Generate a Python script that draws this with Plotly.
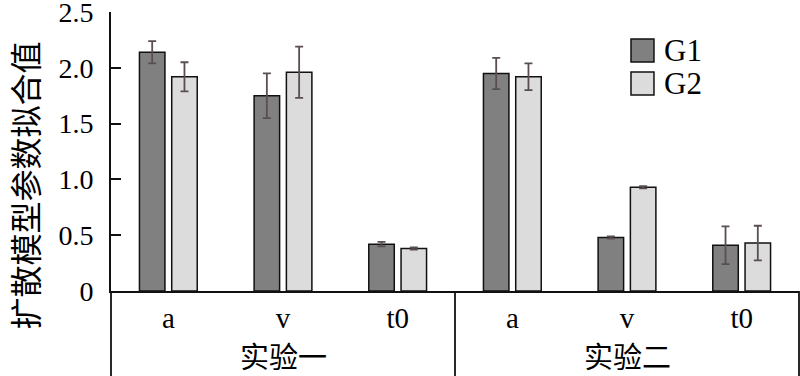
import plotly.graph_objects as go

# ---- data ----
experiments = ["实验一", "实验二"]
params = ["a", "v", "t0"]
g1_values = [2.14, 1.75, 0.42, 1.95, 0.48, 0.41]
g1_errors = [0.10, 0.20, 0.02, 0.14, 0.01, 0.17]
g2_values = [1.92, 1.96, 0.38, 1.92, 0.93, 0.43]
g2_errors = [0.13, 0.23, 0.01, 0.12, 0.01, 0.155]
series_names = ["G1", "G2"]
y_ticks = [0, 0.5, 1.0, 1.5, 2.0, 2.5]
y_ticktext = ["0", "0.5", "1.0", "1.5", "2.0", "2.5"]
y_title = "扩散模型参数拟合值"

# unique category keys
cat_keys = [f"{e}|{p}" for e in experiments for p in params]
cat_text = [p for e in experiments for p in params]

colors = ["#808080", "#dcdcdc"]
serif = "Liberation Serif, Times New Roman, serif"
cjk = "Noto Sans CJK SC, sans-serif"

fig = go.Figure()
for name, vals, errs, col in zip(series_names, [g1_values, g2_values],
                                 [g1_errors, g2_errors], colors):
    fig.add_trace(go.Bar(
        x=cat_keys, y=vals, name=name,
        marker=dict(color=col, line=dict(color="#111111", width=1.5)),
        error_y=dict(type="data", array=errs, visible=True,
                     color="#5a4f4f", thickness=1.8, width=4),
        showlegend=False,
    ))

fig.update_layout(
    width=800, height=376,
    margin=dict(l=111, r=1, t=12, b=85),
    paper_bgcolor="white", plot_bgcolor="white",
    barmode="group", bargap=0.437, bargroupgap=0.21,
    xaxis=dict(
        type="category", tickvals=cat_keys, ticktext=cat_text,
        showline=True, linecolor="#111111", linewidth=1.8,
        ticks="", showgrid=False, zeroline=False, automargin=False,
        tickfont=dict(family=serif, size=29, color="black"),
        ticklabelstandoff=0,
    ),
    yaxis=dict(
        range=[0, 2.5005], autorange=False,
        tickvals=y_ticks, ticktext=y_ticktext,
        showline=True, linecolor="#111111", linewidth=1.8,
        ticks="inside", ticklen=10, tickwidth=1.5, tickcolor="#111111",
        showgrid=False, zeroline=False, automargin=False,
        ticklabeloverflow="allow",
        tickfont=dict(family=serif, size=28, color="black"),
        ticklabelstandoff=10,
    ),
)

# y-axis title
fig.add_annotation(
    text=y_title, textangle=-90, xref="paper", yref="paper",
    x=-0.1265, y=0.378, xanchor="center", yanchor="middle",
    showarrow=False, font=dict(family=cjk, size=32, color="black"),
)

# group labels and divider lines below the axis
n = len(params)
for i, exp in enumerate(experiments):
    fig.add_annotation(
        text=exp, xref="x", yref="paper",
        x=i * n + (n - 1) / 2, y=-0.228, xanchor="center", yanchor="middle",
        showarrow=False, font=dict(family=cjk, size=29, color="black"),
    )
line_style = dict(color="#111111", width=1.8)
fig.add_shape(type="line", xref="paper", yref="paper", x0=0, x1=0,
              y0=0, y1=-0.31, line=line_style)
fig.add_shape(type="line", xref="paper", yref="paper", x0=1, x1=1,
              y0=0, y1=-0.31, line=line_style)
for i in range(1, len(experiments)):
    fig.add_shape(type="line", xref="x", yref="paper",
                  x0=i * n - 0.5, x1=i * n - 0.5,
                  y0=0, y1=-0.31, line=line_style)

# legend (drawn as boxes + text)
leg_y = [(0.8208, 0.9032), (0.7025, 0.7849)]
for name, col, (y0, y1) in zip(series_names, colors, leg_y):
    fig.add_shape(type="rect", xref="paper", yref="paper",
                  x0=0.7558, x1=0.7892, y0=y0, y1=y1,
                  fillcolor=col, line=dict(color="#111111", width=1.5))
    fig.add_annotation(text=name, xref="paper", yref="paper",
                       x=0.8009, y=(y0 + y1) / 2, xanchor="left",
                       yanchor="middle", showarrow=False,
                       font=dict(family=serif, size=31, color="black"))

# remove the default 8px page margin so the figure fills the window exactly
fig.write_html(
    "out.html",
    config={"displayModeBar": False},
    post_script="document.body.style.margin='0';document.body.style.overflow='hidden';",
)
